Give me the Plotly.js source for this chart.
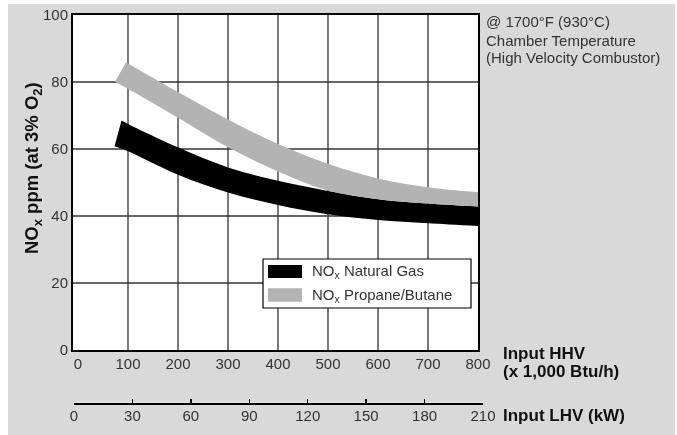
<!DOCTYPE html>
<html>
<head>
<meta charset="utf-8">
<script src="https://cdn.plot.ly/plotly-3.0.1.min.js"></script>
<style>
html,body{margin:0;padding:0;background:#fff;}
#chart{width:677px;height:435px;transform:translateZ(0);will-change:transform;}
#chart .gridlayer path{shape-rendering:geometricPrecision !important;}
</style>
</head>
<body>
<div id="chart"></div>
<script>
// ---- data ----
const hhvTicks = [0, 100, 200, 300, 400, 500, 600, 700, 800];
const lhvTicks = [0, 30, 60, 90, 120, 150, 180, 210];
const yTicks = [0, 20, 40, 60, 80, 100];

const gasUpperX = [87, 100, 200, 300, 400, 500, 600, 700, 800];
const gasUpperY = [68.5, 67.5, 60.5, 54.5, 50.5, 47.5, 45.0, 43.7, 42.8];
const gasLowerX = [73, 100, 200, 300, 400, 500, 600, 700, 800];
const gasLowerY = [60.8, 59.3, 52.3, 47.0, 43.3, 40.5, 38.8, 37.8, 37.0];

const propUpperX = [96, 100, 200, 300, 400, 500, 600, 700, 800];
const propUpperY = [85.9, 85.5, 77.0, 68.8, 61.5, 55.6, 51.2, 48.6, 47.1];
const propLowerX = [74, 100, 200, 300, 400, 500, 600, 700, 800];
const propLowerY = [80.1, 78.0, 69.3, 60.5, 53.3, 47.6, 45.0, 43.7, 42.8];

const seriesNames = ["NO<sub>x</sub> Natural Gas", "NO<sub>x</sub> Propane/Butane"];
const seriesColors = ["#000000", "#b3b3b3"];
const noteLines = ["@ 1700°F (930°C)", "Chamber Temperature", "(High Velocity Combustor)"];

// ---- layout helpers (pixel -> paper) ----
const L = 73, W = 410, T = 15, H = 388;
const PX = x => (x - L) / W;
const PY = y => (T + H - y) / H;
const FONT = "Liberation Sans, Arial, Helvetica, sans-serif";
const TXT = "#333333";
const BOLD = {family: FONT, size: 17, color: "#111"};

function band(xl, yl, xu, yu, color) {
  return [
    {x: xl, y: yl, mode: "lines", line: {width: 0, shape: "spline"}, hoverinfo: "skip", showlegend: false},
    {x: xu, y: yu, mode: "lines", line: {width: 0, shape: "spline"}, fill: "tonexty", fillcolor: color, hoverinfo: "skip", showlegend: false}
  ];
}

const traces = [
  ...band(gasLowerX, gasLowerY, gasUpperX, gasUpperY, seriesColors[0]),
  ...band(propLowerX, propLowerY, propUpperX, propUpperY, seriesColors[1]),
  {x: lhvTicks, y: lhvTicks.map(() => 0), xaxis: "x2", yaxis: "y2", mode: "markers",
   marker: {opacity: 0}, hoverinfo: "skip", showlegend: false}
];

const ann = (text, x, y, opts) => Object.assign({
  text, x: PX(x), y: PY(y), xref: "paper", yref: "paper", showarrow: false,
  xanchor: "left", yanchor: "middle", font: {family: FONT, size: 15, color: TXT}
}, opts || {});

const white = (x0, x1, y0, y1) => ({type: "rect", xref: "paper", yref: "paper",
  x0: PX(x0), x1: PX(x1), y0: PY(y1), y1: PY(y0), fillcolor: "#ffffff", line: {width: 0}, layer: "below"});

const layout = {
  width: 677, height: 435,
  margin: {l: L, r: 677 - L - W, t: T, b: 435 - T - H, pad: 0},
  paper_bgcolor: "#d9d9d9",
  plot_bgcolor: "#ffffff",
  showlegend: false,
  font: {family: FONT, size: 15, color: TXT},
  xaxis: {
    domain: [0, 405 / W], anchor: "y", range: [-10, 800],
    tickvals: hhvTicks, ticks: "", showgrid: true, gridcolor: "#333333", gridwidth: 1.3,
    zeroline: true, zerolinecolor: "rgba(0,0,0,0)", zerolinewidth: 1,
    showline: true, mirror: true, linecolor: "#000", linewidth: 2,
    ticklabelstandoff: -1,
    tickfont: {family: FONT, size: 15, color: TXT}
  },
  yaxis: {
    domain: [(403 - 350) / H, 1], anchor: "x", range: [0, 100],
    tickvals: yTicks, ticks: "", showgrid: true, gridcolor: "#333333", gridwidth: 1.3,
    zeroline: false, showline: true, mirror: true, linecolor: "#000", linewidth: 2,
    tickfont: {family: FONT, size: 15, color: TXT}
  },
  xaxis2: {
    domain: [1 / W, 1], anchor: "y2", range: [0, 210],
    tickvals: lhvTicks, ticks: "inside", ticklen: 4, tickwidth: 1.5, tickcolor: "#000",
    showgrid: false, zeroline: false, showline: true, linecolor: "#000", linewidth: 1.5,
    ticklabelstandoff: -2,
    tickfont: {family: FONT, size: 15, color: TXT}
  },
  yaxis2: {domain: [0, 0.001], anchor: "x2", range: [0, 1], visible: false},
  shapes: [
    white(0, 677, 0, 4),
    white(0, 8, 0, 435),
    white(675, 677, 0, 435),
    {type: "rect", xref: "paper", yref: "paper", x0: PX(263), x1: PX(471), y0: PY(308), y1: PY(259),
     fillcolor: "#ffffff", line: {color: "#000", width: 1.2}},
    {type: "rect", xref: "paper", yref: "paper", x0: PX(268), x1: PX(302), y0: PY(278), y1: PY(265),
     fillcolor: seriesColors[0], line: {width: 0}},
    {type: "rect", xref: "paper", yref: "paper", x0: PX(268), x1: PX(302), y0: PY(301.7), y1: PY(288.3),
     fillcolor: seriesColors[1], line: {width: 0}}
  ],
  annotations: [
    ann(seriesNames[0], 310, 271.7),
    ann(seriesNames[1], 310, 295),
    ann(noteLines[0], 484, 21.7),
    ann(noteLines[1], 484, 40),
    ann(noteLines[2], 484, 57.5),
    ann("<b>NO<sub>x</sub> ppm (at 3% O<sub>2</sub>)</b>", 33, 168,
        {xanchor: "center", textangle: -90, font: {family: FONT, size: 18.5, color: "#111"}}),
    ann("<b>Input HHV</b>", 501, 353, {font: BOLD}),
    ann("<b>(x 1,000 Btu/h)</b>", 501, 371, {font: BOLD}),
    ann("<b>Input LHV (kW)</b>", 501, 415.5, {font: BOLD})
  ]
};

Plotly.newPlot("chart", traces, layout, {staticPlot: true, displayModeBar: false});
</script>
</body>
</html>
